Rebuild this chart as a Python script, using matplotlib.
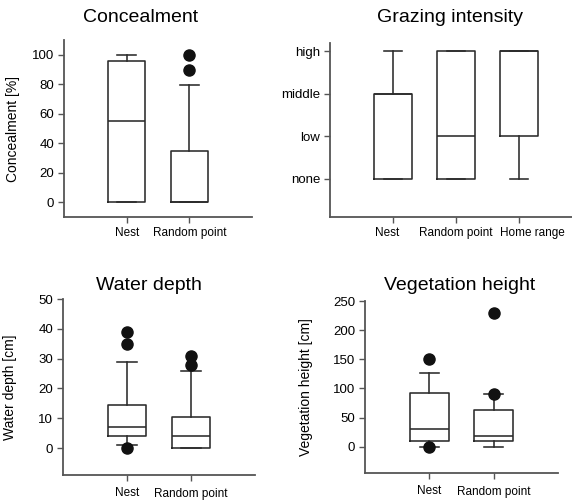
import matplotlib
matplotlib.use('Agg')
import matplotlib.pyplot as plt
from matplotlib.transforms import ScaledTranslation

plt.rcParams['font.family'] = ['Liberation Sans', 'DejaVu Sans']

W, H = 572, 500

# ---- data ----
conc_labels = ['Nest', 'Random point']
conc_q1 = [0, 0]
conc_med = [55, 0]
conc_q3 = [96, 35]
conc_lo = [0, 0]
conc_hi = [100, 79.5]
conc_fliers = [[], [90, 100]]

graz_labels = ['Nest', 'Random point', 'Home range']
graz_q1 = [0, 0, 1]
graz_med = [2, 1, 3]
graz_q3 = [2, 3, 3]
graz_lo = [0, 0, 0]
graz_hi = [3, 3, 3]
graz_fliers = [[], [], []]
graz_ticks = ['none', 'low', 'middle', 'high']

water_labels = ['Nest', 'Random point']
water_q1 = [4, 0]
water_med = [7, 4]
water_q3 = [14.5, 10.5]
water_lo = [1, 0]
water_hi = [29, 25.7]
water_fliers = [[0, 35, 39], [28, 31]]

veg_labels = ['Nest', 'Random point']
veg_q1 = [10, 10]
veg_med = [30, 18]
veg_q3 = [93, 63]
veg_lo = [0, 0]
veg_hi = [127, 90]
veg_fliers = [[0, 150], [90, 230]]


def make_stats(q1, med, q3, lo, hi, fliers):
    return [dict(q1=a, med=b, q3=c, whislo=d, whishi=e, fliers=f)
            for a, b, c, d, e, f in zip(q1, med, q3, lo, hi, fliers)]


def px_axes(fig, left, top, right, bottom):
    return fig.add_axes([left / W, 1 - bottom / H, (right - left) / W, (bottom - top) / H])


def style_axes(ax, xpad=3):
    for s in ['top', 'right']:
        ax.spines[s].set_visible(False)
    for s in ['left', 'bottom']:
        ax.spines[s].set_color('#555555')
        ax.spines[s].set_linewidth(1.3)
    ax.tick_params(axis='y', direction='out', length=4, width=1, color='#555555',
                   labelsize=9.5, pad=3)
    ax.tick_params(axis='x', direction='out', length=4, width=1, color='#555555',
                   labelsize=8.5, pad=xpad)


def draw_box(ax, stats, labels):
    line = dict(color='#2b2b2b', linewidth=1.15)
    ax.bxp(stats, positions=range(1, len(stats) + 1), widths=0.6, capwidths=0.3,
           boxprops=line, whiskerprops=line, capprops=line, medianprops=line,
           flierprops=dict(marker='o', markerfacecolor='#111111', markeredgecolor='#111111',
                           markersize=8),
           manage_ticks=False)
    ax.set_xticks(range(1, len(stats) + 1))
    ax.set_xticklabels(labels)


fig = plt.figure(figsize=(W / 100, H / 100), dpi=100)

# Concealment
ax1 = px_axes(fig, 64, 40, 252, 217)
draw_box(ax1, make_stats(conc_q1, conc_med, conc_q3, conc_lo, conc_hi, conc_fliers), conc_labels)
ax1.set_xlim(0, 3)
ax1.set_ylim(-10, 110)
ax1.set_yticks([0, 20, 40, 60, 80, 100])
ax1.set_ylabel('Concealment [%]', fontsize=10)
ax1.yaxis.set_label_coords((20 - 64) / 188, 0.5)
style_axes(ax1)
fig.text(141 / W, 1 - 17 / H, 'Concealment', ha='center', va='center', fontsize=14)

# Grazing intensity
ax2 = px_axes(fig, 330, 43, 572, 217)
draw_box(ax2, make_stats(graz_q1, graz_med, graz_q3, graz_lo, graz_hi, graz_fliers), graz_labels)
ax2.set_xlim(0, 242 / 63)
ax2.set_ylim(-0.9, 3.2)
ax2.set_yticks(range(len(graz_ticks)))
ax2.set_yticklabels(graz_ticks)
style_axes(ax2)
# labels are spread a little in the original so they don't collide
xt = ax2.get_xticklabels()
xt[0].set_transform(xt[0].get_transform() + ScaledTranslation(-6 / 100, 0, fig.dpi_scale_trans))
xt[2].set_transform(xt[2].get_transform() + ScaledTranslation(13 / 100, 0, fig.dpi_scale_trans))
fig.text(450 / W, 1 - 17 / H, 'Grazing intensity', ha='center', va='center', fontsize=14)

# Water depth
ax3 = px_axes(fig, 63, 299, 255, 475)
draw_box(ax3, make_stats(water_q1, water_med, water_q3, water_lo, water_hi, water_fliers), water_labels)
ax3.set_xlim(0, 3)
ax3.set_ylim(-9, 50)
ax3.set_yticks([0, 10, 20, 30, 40, 50])
ax3.set_ylabel('Water depth [cm]', fontsize=10)
ax3.yaxis.set_label_coords((17 - 63) / 192, 0.5)
style_axes(ax3, xpad=5)
fig.text(149 / W, 1 - 285 / H, 'Water depth', ha='center', va='center', fontsize=14)

# Vegetation height
ax4 = px_axes(fig, 365, 301, 558, 473)
draw_box(ax4, make_stats(veg_q1, veg_med, veg_q3, veg_lo, veg_hi, veg_fliers), veg_labels)
ax4.set_xlim(0, 3)
ax4.set_ylim(-45, 250)
ax4.set_yticks([0, 50, 100, 150, 200, 250])
ax4.set_ylabel('Vegetation height [cm]', fontsize=10)
ax4.yaxis.set_label_coords((313 - 365) / 193, 0.5)
style_axes(ax4, xpad=5)
fig.text(460 / W, 1 - 285 / H, 'Vegetation height', ha='center', va='center', fontsize=14)

fig.savefig('out.png', dpi=100)
